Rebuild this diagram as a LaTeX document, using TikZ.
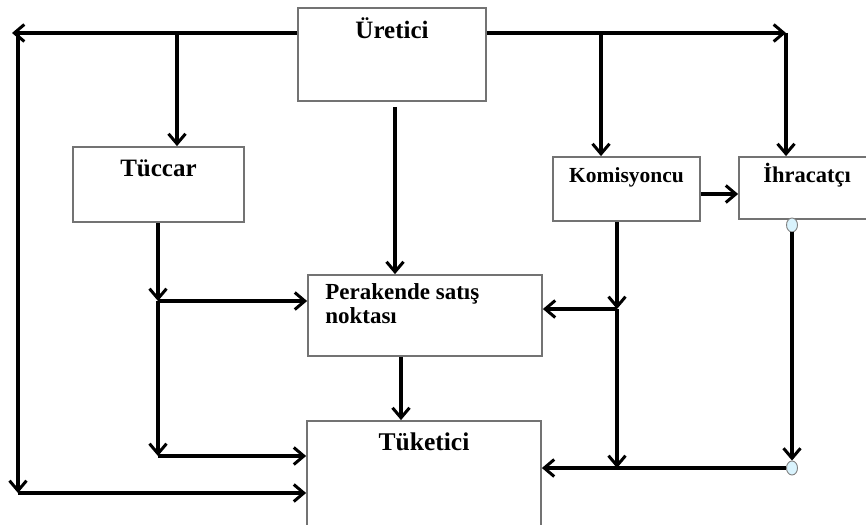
\documentclass[tikz,border=0pt]{standalone}
\usepackage{fontspec}
\setmainfont{Liberation Serif}
\usepackage{tkz-euclide}
\usetikzlibrary{arrows.meta,shapes.geometric}
\tikzset{
  kutu/.style={draw=black!55, line width=1.8pt, rectangle, inner sep=0pt},
  ok/.style={line width=3.4pt, -{Straight Barb[length=10pt,width=17pt,line width=3pt]}},
  hat/.style={line width=3.4pt},
  nokta/.style={draw=black!50, fill=cyan!15, line width=0.9pt, ellipse, minimum width=11pt, minimum height=14pt, inner sep=0pt},
  yazi/.style={font=\bfseries\fontsize{#1}{24}\selectfont, inner sep=0pt, anchor=base}
}
\begin{document}
\begin{tikzpicture}[x=1pt,y=-1pt]
  \useasboundingbox (0,0) rectangle (866,524);
  \node[kutu, minimum width=188pt, minimum height=93pt,
    label={[yazi=25, yshift=-31pt]north:Üretici}] (uretici) at (392,54.5) {};
  \node[kutu, minimum width=171pt, minimum height=75pt,
    label={[yazi=25, yshift=-30pt]north:Tüccar}] (tuccar) at (158.5,184.5) {};
  \node[kutu, minimum width=147pt, minimum height=64pt,
    label={[yazi=21.5, yshift=-26pt]north:Komisyoncu}] (komisyoncu) at (626.5,189) {};
  \node[kutu, minimum width=136pt, minimum height=62pt,
    label={[yazi=22.5, yshift=-26pt]north:İhracatçı}] (ihracatci) at (807,188) {};
  \node[kutu, minimum width=234pt, minimum height=81pt,
    label={[font=\bfseries\fontsize{23}{24}\selectfont, align=left, anchor=north west,
      inner sep=0pt, xshift=18pt, yshift=-9pt]north west:Perakende satış\\noktası}] (perakende) at (425,315.5) {};
  \node[kutu, minimum width=234pt, minimum height=109pt,
    label={[yazi=25.5, yshift=-30pt]north:Tüketici}] (tuketici) at (424,475.5) {};
  \node[nokta] (c1) at (792,225) {};
  \node[nokta] (c2) at (792,468) {};
  \tkzDefPoints{12/33/S,18/33/A,18/493/B,177/33/C,601/33/E,786/33/D}
  \tkzDefPoints{158/301/H,158/456/I,617/309/J,617/468/K}
  \draw[ok] (uretici.west |- S) -- (S);
  \draw[ok] (A) -- (B);
  \draw[ok] (B) -- (B -| tuketici.west);
  \draw[ok] (C) -- (C |- tuccar.north);
  \draw[ok] (uretici.east |- D) -- (D);
  \draw[ok] (D) -- (D |- ihracatci.north);
  \draw[ok] (E) -- (E |- komisyoncu.north);
  \draw[ok] ([yshift=-5pt]komisyoncu.east) -- ([yshift=-5pt]komisyoncu.east -| ihracatci.west);
  \draw[ok] ([xshift=3pt,yshift=-5pt]uretici.south) -- ([xshift=3pt]uretici.south |- perakende.north);
  \draw[ok] (tuccar.south -| H) -- (H);
  \draw[ok] (H) -- (H -| perakende.west);
  \draw[ok] (H) -- (I);
  \draw[ok] (I) -- (I -| tuketici.west);
  \draw[ok] (komisyoncu.south -| J) -- (J);
  \draw[ok] (J) -- (J -| perakende.east);
  \draw[ok] (J) -- (K);
  \draw[ok] (c1.south) -- (c2.north);
  \draw[hat] (c2.west) -- (K);
  \draw[ok] (K) -- (K -| tuketici.east);
  \draw[ok] ([xshift=-24pt]perakende.south) -- ([xshift=-24pt]perakende.south |- tuketici.north);
\end{tikzpicture}
\end{document}
